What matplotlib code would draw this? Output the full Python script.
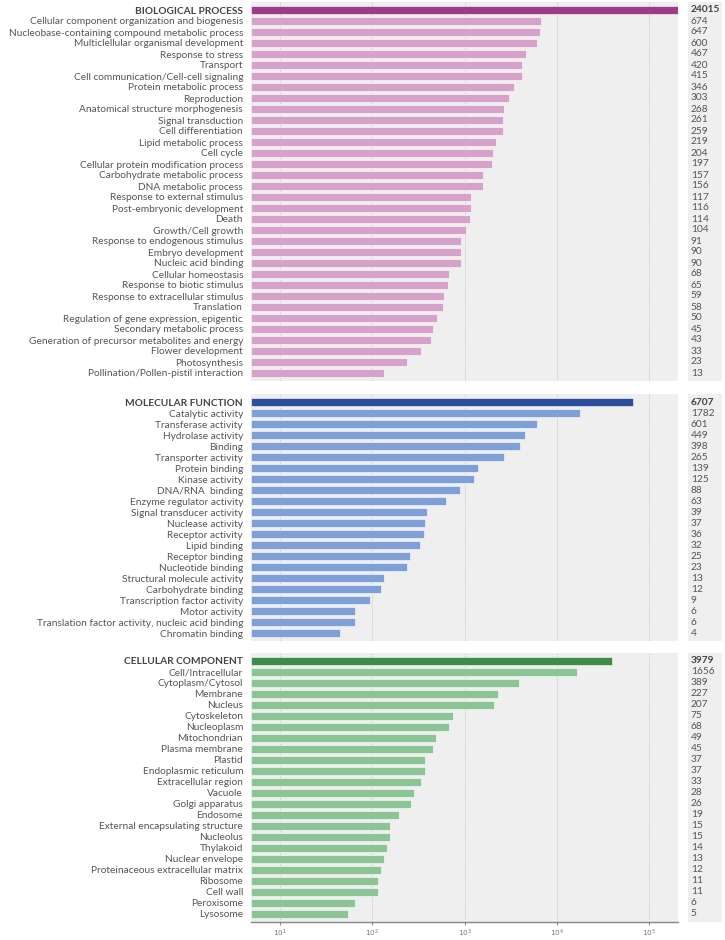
import numpy as np
import matplotlib
matplotlib.use("Agg")
import matplotlib.pyplot as plt

# Data
bp_labels = ["BIOLOGICAL PROCESS", "Cellular component organization and biogenesis",
             "Nucleobase-containing compound metabolic process", "Multiclellular organismal development",
             "Response to stress", "Transport", "Cell communication/Cell-cell signaling",
             "Protein metabolic process", "Reproduction", "Anatomical structure morphogenesis",
             "Signal transduction", "Cell differentiation", "Lipid metabolic process", "Cell cycle",
             "Cellular protein modification process", "Carbohydrate metabolic process",
             "DNA metabolic process", "Response to external stimulus", "Post-embryonic development",
             "Death", "Growth/Cell growth", "Response to endogenous stimulus", "Embryo development",
             "Nucleic acid binding", "Cellular homeostasis", "Response to biotic stimulus",
             "Response to extracellular stimulus", "Translation", "Regulation of gene expression, epigentic",
             "Secondary metabolic process", "Generation of precursor metabolites and energy",
             "Flower development", "Photosynthesis", "Pollination/Pollen-pistil interaction"]
bp_counts = [24015, 674, 647, 600, 467, 420, 415, 346, 303, 268, 261, 259, 219, 204, 197, 157,
             156, 117, 116, 114, 104, 91, 90, 90, 68, 65, 59, 58, 50, 45, 43, 33, 23, 13]

mf_labels = ["MOLECULAR FUNCTION", "Catalytic activity", "Transferase activity", "Hydrolase activity",
             "Binding", "Transporter activity", "Protein binding", "Kinase activity", "DNA/RNA  binding",
             "Enzyme regulator activity", "Signal transducer activity", "Nuclease activity",
             "Receptor activity", "Lipid binding", "Receptor binding", "Nucleotide binding",
             "Structural molecule activity", "Carbohydrate binding", "Transcription factor activity",
             "Motor activity", "Translation factor activity, nucleic acid binding", "Chromatin binding"]
mf_counts = [6707, 1782, 601, 449, 398, 265, 139, 125, 88, 63, 39, 37, 36, 32, 25, 23, 13, 12, 9, 6, 6, 4]

cc_labels = ["CELLULAR COMPONENT", "Cell/Intracellular", "Cytoplasm/Cytosol", "Membrane", "Nucleus",
             "Cytoskeleton", "Nucleoplasm", "Mitochondrian", "Plasma membrane", "Plastid",
             "Endoplasmic reticulum", "Extracellular region", "Vacuole", "Golgi apparatus", "Endosome",
             "External encapsulating structure", "Nucleolus", "Thylakoid", "Nuclear envelope",
             "Proteinaceous extracellular matrix", "Ribosome", "Cell wall", "Peroxisome", "Lysosome"]
cc_counts = [3979, 1656, 389, 227, 207, 75, 68, 49, 45, 37, 37, 33, 28, 26, 19, 15, 15, 14, 13,
             12, 11, 11, 6, 5]

tick_vals = [1, 10, 100, 1000, 10000]
tick_labels = [r"$10^{1}$", r"$10^{2}$", r"$10^{3}$", r"$10^{4}$", r"$10^{5}$"]

panels = [
    (bp_labels, bp_counts, "#9c3d88", "#d6a2ca", 10),
    (mf_labels, mf_counts, "#2c4f9c", "#7f9fd7", 402),
    (cc_labels, cc_counts, "#3f8b48", "#8dc496", 661),
]

plt.rcParams['font.family'] = ['Lato', 'DejaVu Sans']
W, H = 725, 940
fig = plt.figure(figsize=(W / 100, H / 100), dpi=100)

pitch = 11.0
pad = 0.7
ax_l, ax_r = 250.7, 678
cnt_l, cnt_r = 688, 722
xmin, xmax = 0.48, 20500

for i, (labels, counts, dark, light, y0) in enumerate(panels):
    n = len(labels)
    top = y0 - pad * pitch
    hgt = (n - 1 + 2 * pad) * pitch
    rect = [ax_l / W, 1 - (top + hgt) / H, (ax_r - ax_l) / W, hgt / H]
    ax = fig.add_axes(rect)
    ax.set_facecolor("#efefef")
    ax.set_xscale("log")
    ax.set_xlim(xmin, xmax)
    ax.set_ylim(n - 1 + pad, -pad)
    y = np.arange(n)
    colors = [dark] + [light] * (n - 1)
    ax.barh(y, counts, left=xmin, height=0.66, color=colors, edgecolor="white", linewidth=0.4, zorder=2)
    for v in tick_vals:
        ax.axvline(v, color="#c4c4c4", lw=0.6, ls=(0, (1.5, 1.5)), zorder=1)
    ax.set_yticks(y)
    ax.set_yticklabels(labels, fontsize=7.3, color="#555555")
    ax.get_yticklabels()[0].set_fontweight("bold")
    ax.get_yticklabels()[0].set_color("#444444")
    ax.tick_params(axis="y", length=0, pad=5.5)
    ax.minorticks_off()
    for s in ax.spines.values():
        s.set_visible(False)
    if i == 2:
        ax.spines["bottom"].set_visible(True)
        ax.spines["bottom"].set_color("#888888")
        ax.spines["bottom"].set_linewidth(1.0)
        ax.set_xticks(tick_vals)
        ax.set_xticklabels(tick_labels, fontsize=5.2, color="#777777")
        ax.tick_params(axis="x", length=2.5, color="#888888", pad=1.5)
    else:
        ax.set_xticks([])

    # count column
    cax = fig.add_axes([cnt_l / W, rect[1], (cnt_r - cnt_l) / W, rect[3]])
    cax.set_facecolor("#efefef")
    cax.set_xlim(0, 1)
    cax.set_ylim(n - 1 + pad, -pad)
    cax.set_xticks([]); cax.set_yticks([])
    for s in cax.spines.values():
        s.set_visible(False)
    for j, c in enumerate(counts):
        cax.text(0.08, j, str(c), fontsize=7.3, va="center", ha="left",
                 color="#444444" if j == 0 else "#555555",
                 fontweight="bold" if j == 0 else "normal")

fig.savefig("out.png", dpi=100)
